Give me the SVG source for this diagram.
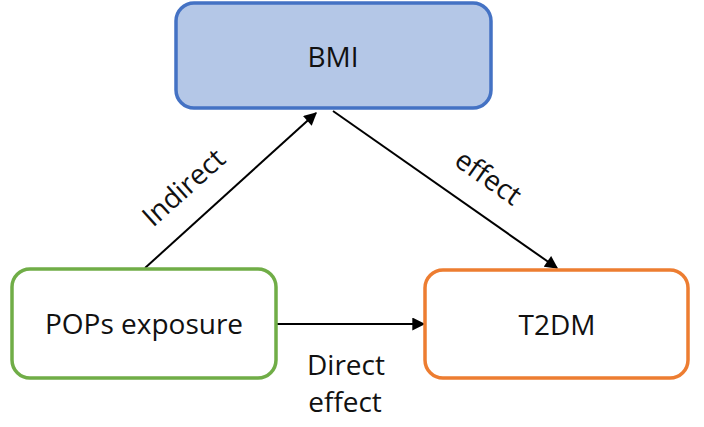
<svg xmlns="http://www.w3.org/2000/svg" width="704" height="427" viewBox="0 0 704 427">
<style>
text{font-family:"Open Sans","Noto Sans","Liberation Sans",sans-serif;font-size:28px;fill:#111}
.box{stroke-width:3.5}
.c{text-anchor:middle}
.edge{stroke:#000;stroke-width:2;fill:none;marker-end:url(#ah)}
</style>
<defs>
<marker id="ah" viewBox="0 0 10 10" refX="9" refY="5" markerWidth="7" markerHeight="6.5" orient="auto" markerUnits="strokeWidth">
<path d="M0,0 L10,5 L0,10 Z" fill="#000"/>
</marker>
</defs>
<rect width="704" height="427" fill="#fff"/>
<g id="connectors">
<line class="edge" x1="145" y1="268" x2="316" y2="113"/>
<line class="edge" x1="333" y1="111" x2="557" y2="268"/>
<line class="edge" x1="277" y1="324" x2="424" y2="324"/>
<text class="c" transform="translate(184,188) rotate(-42)" y="9">Indirect</text>
<text class="c" transform="translate(488,178) rotate(35)" y="9">effect</text>
<text class="c" x="346" y="375">Direct</text>
<text class="c" x="345" y="412">effect</text>
</g>
<g id="bmi">
<rect class="box" x="176" y="3" width="315" height="105" rx="18" fill="#b4c7e7" stroke="#4472c4"/>
<text class="c" x="333" y="67">BMI</text>
</g>
<g id="pops">
<rect class="box" x="12" y="269" width="264" height="109" rx="18" fill="#fff" stroke="#70ad47"/>
<text class="c" x="144" y="334">POPs exposure</text>
</g>
<g id="t2dm">
<rect class="box" x="425" y="270" width="263" height="108" rx="18" fill="#fff" stroke="#ed7d31"/>
<text class="c" x="557" y="335">T2DM</text>
</g>
</svg>
